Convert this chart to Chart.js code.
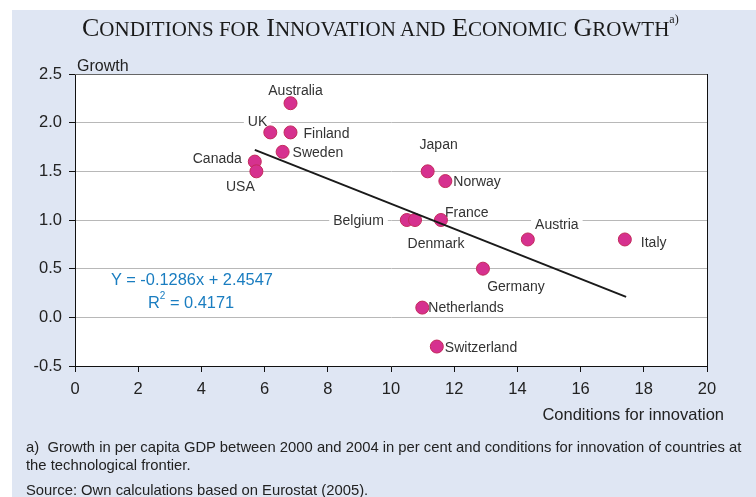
<!DOCTYPE html>
<html>
<head>
<meta charset="utf-8">
<script src="https://cdn.jsdelivr.net/npm/chart.js@4.4.1/dist/chart.umd.min.js"></script>
<style>
  body { margin: 0; width: 756px; height: 497px; overflow: hidden; background: #fff; font-family: "Liberation Sans", Arial, sans-serif; }
  #bg { position: absolute; left: 12px; top: 10px; right: 0; bottom: 0; background: #dfe6f3; }
  #chart { position: absolute; left: 0; top: 0; }
  .t { position: absolute; white-space: nowrap; color: #222; line-height: 1; }
  #title { left: 82px; top: 15px; font-family: "Liberation Serif", "Times New Roman", serif; font-size: 26px; color: #1a1a1a; }
  #title .sc { font-size: 21px; }
  #title sup { font-size: 12px; vertical-align: top; position: relative; top: -2px; }
  #ylab { left: 77px; top: 58px; font-size: 16px; }
  #xlab { right: 32px; top: 406px; font-size: 16.5px; }
  .eq { color: #1a7dc0; font-size: 16.4px; }
  .eq sup { font-size: 10px; vertical-align: top; position: relative; top: -3px; }
  .note { left: 26px; font-size: 14.8px; }
</style>
</head>
<body>
<div id="bg"></div>
<canvas id="chart" width="756" height="497"></canvas>
<div class="t" id="title">C<span class="sc">ONDITIONS FOR</span> I<span class="sc">NNOVATION AND</span> E<span class="sc">CONOMIC</span> G<span class="sc">ROWTH</span><sup>a)</sup></div>
<div class="t" id="ylab">Growth</div>
<div class="t" id="xlab">Conditions for innovation</div>
<div class="t eq" style="left:111px;top:271px">Y = -0.1286x + 2.4547</div>
<div class="t eq" style="left:148px;top:294px">R<sup>2</sup> = 0.4171</div>
<div class="t note" style="top:440px">a)&nbsp; Growth in per capita GDP between 2000 and 2004 in per cent and conditions for innovation of countries at</div>
<div class="t note" style="top:458px">the technological frontier.</div>
<div class="t note" style="top:483px">Source: Own calculations based on Eurostat (2005).</div>
<script>
// values
const countries = ['Australia', 'UK', 'Finland', 'Sweden', 'Canada', 'USA', 'Japan', 'Norway',
  'Belgium', 'Denmark', 'France', 'Austria', 'Italy', 'Germany', 'Netherlands', 'Switzerland'];
const innovation = [6.82, 6.18, 6.82, 6.57, 5.69, 5.74, 11.16, 11.72, 10.5, 10.76, 11.58, 14.33, 17.4, 12.91, 10.99, 11.45];
const growth = [2.2, 1.9, 1.9, 1.7, 1.6, 1.5, 1.5, 1.4, 1.0, 1.0, 1.0, 0.8, 0.8, 0.5, 0.1, -0.3];

// fitted line, both ends
const trendX = [5.69, 17.44];
const trendY = [1.72, 0.21];

// where each country name sits next to its dot: [align, dx, dy]
const labelPos = {
  Australia: ['center', 5, -13], UK: ['right', -3, -11], Finland: ['left', 13, 1],
  Sweden: ['left', 10, 0], Canada: ['right', -13, -3], USA: ['center', -16, 15],
  Japan: ['center', 11, -27], Norway: ['left', 8, 0], Belgium: ['right', -23, 0],
  Denmark: ['center', 21, 23], France: ['left', 4, -8], Austria: ['center', 29, -15],
  Italy: ['left', 16, 3], Germany: ['center', 33, 17], Netherlands: ['left', 6, 0],
  Switzerland: ['left', 8, 1]
};

const points = countries.map((c, i) => ({ x: innovation[i], y: growth[i] }));
const trend = trendX.map((x, i) => ({ x: x, y: trendY[i] }));

const plotFrame = {
  id: 'plotFrame',
  beforeDraw(chart) {
    const { ctx, chartArea: a } = chart;
    ctx.save();
    ctx.fillStyle = '#fff';
    ctx.fillRect(a.left, a.top, a.width, a.height);
    ctx.restore();
  },
  beforeDatasetsDraw(chart) {
    const { ctx } = chart;
    const xs = chart.scales.x, ys = chart.scales.y;
    ctx.save();
    ctx.font = '14px "Liberation Sans", Arial, sans-serif';
    ctx.textBaseline = 'middle';
    countries.forEach((c, i) => {
      const [align, dx, dy] = labelPos[c];
      const px = xs.getPixelForValue(innovation[i]) + dx;
      const py = ys.getPixelForValue(growth[i]) + dy;
      const w = ctx.measureText(c).width;
      let left = px;
      if (align === 'center') left = px - w / 2;
      if (align === 'right') left = px - w;
      ctx.fillStyle = '#fff';
      ctx.fillRect(left - 4, py - 8, w + 8, 16);
      ctx.fillStyle = '#333';
      ctx.textAlign = 'left';
      ctx.fillText(c, left, py + 1);
    });
    ctx.restore();
  },
  afterDraw(chart) {
    const { ctx, chartArea: a } = chart;
    ctx.save();
    ctx.lineWidth = 1;
    ctx.strokeStyle = '#666';
    ctx.beginPath();
    ctx.moveTo(a.left, a.top + 0.5);
    ctx.lineTo(a.right, a.top + 0.5);
    ctx.stroke();
    ctx.strokeStyle = '#111';
    ctx.beginPath();
    ctx.moveTo(a.right + 0.5, a.top);
    ctx.lineTo(a.right + 0.5, a.bottom);
    ctx.stroke();
    ctx.restore();
  }
};

new Chart(document.getElementById('chart'), {
  type: 'scatter',
  data: {
    datasets: [
      {
        type: 'line',
        data: trend,
        borderColor: '#1a1a1a',
        borderWidth: 2,
        pointRadius: 0,
        fill: false,
        order: 0
      },
      {
        data: points,
        backgroundColor: '#d6318f',
        borderColor: '#c42a5c',
        borderWidth: 1,
        pointRadius: 6.5,
        order: 1
      }
    ]
  },
  options: {
    responsive: false,
    animation: false,
    events: [],
    layout: { padding: { top: 74, right: 49, left: 0, bottom: 0 } },
    plugins: { legend: { display: false }, tooltip: { enabled: false } },
    scales: {
      x: {
        type: 'linear',
        min: 0, max: 20,
        afterFit(s) { s.height = 131; },
        ticks: { stepSize: 2, color: '#222', padding: 8, font: { size: 16.5, family: '"Liberation Sans", Arial, sans-serif' } },
        grid: { drawOnChartArea: false, tickLength: 6, tickColor: '#111' },
        border: { color: '#111', width: 1 }
      },
      y: {
        min: -0.5, max: 2.5,
        afterFit(s) { s.width = 75; },
        ticks: {
          stepSize: 0.5, color: '#222', padding: 7,
          font: { size: 16.5, family: '"Liberation Sans", Arial, sans-serif' },
          callback: v => v.toFixed(1)
        },
        grid: { color: '#b8b8b8', tickLength: 6, tickColor: '#111' },
        border: { color: '#111', width: 1 }
      }
    }
  },
  plugins: [plotFrame]
});
</script>
</body>
</html>
